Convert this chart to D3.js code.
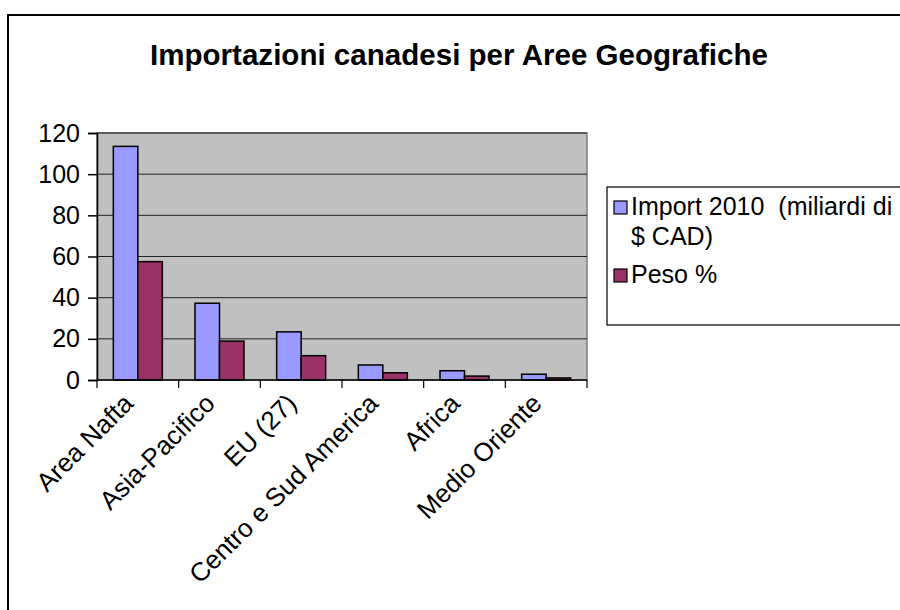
<!DOCTYPE html>
<html lang="it">
<head>
<meta charset="utf-8">
<title>Importazioni canadesi per Aree Geografiche</title>
<script src="https://cdn.jsdelivr.net/npm/d3@7"></script>
<style>
body { margin: 0; background: #fff; }
text { font-family: "Liberation Sans", Arial, sans-serif; fill: #000; }
</style>
</head>
<body>
<script>
// chart values
var categories = ["Area Nafta", "Asia-Pacifico", "EU (27)", "Centro e Sud America", "Africa", "Medio Oriente"];
var seriesNames = ["Import 2010  (miliardi di $ CAD)", "Peso %"];
var importVals = [113.5, 37.3, 23.4, 7.3, 4.5, 2.8];
var pesoVals = [57.5, 18.9, 11.8, 3.5, 1.9, 1.0];
var yTicks = [0, 20, 40, 60, 80, 100, 120];

var w = 900, h = 610;
var pLeft = 97, pRight = 587, pTop = 133, pBottom = 380;
var colors = ["#9999ff", "#993366"];
var fs = 25;

var svg = d3.select("body").append("svg")
  .attr("width", w).attr("height", h);

// outer chart border (runs off the page right and bottom)
svg.append("rect")
  .attr("x", 8).attr("y", 15)
  .attr("width", 920).attr("height", 620)
  .attr("fill", "none").attr("stroke", "#000").attr("stroke-width", 2);

svg.append("text")
  .attr("x", 459).attr("y", 65)
  .attr("text-anchor", "middle")
  .attr("font-size", 29).attr("font-weight", "bold")
  .attr("textLength", 618).attr("lengthAdjust", "spacingAndGlyphs")
  .text("Importazioni canadesi per Aree Geografiche");

var x0 = d3.scaleBand().domain(categories).range([pLeft, pRight]);
var x1 = d3.scaleBand().domain([0, 1]).range([0, x0.bandwidth()]).paddingOuter(0.667);
var y = d3.scaleLinear().domain([0, 120]).range([pBottom, pTop]);

// plot area
svg.append("rect")
  .attr("x", pLeft).attr("y", pTop)
  .attr("width", pRight - pLeft).attr("height", pBottom - pTop)
  .attr("fill", "#c0c0c0").attr("stroke", "#808080").attr("stroke-width", 1.5);

svg.selectAll(".grid")
  .data(yTicks.slice(1))
  .enter().append("line")
  .attr("x1", pLeft).attr("x2", pRight)
  .attr("y1", function(d) { return y(d); })
  .attr("y2", function(d) { return y(d); })
  .attr("stroke", "#222").attr("stroke-width", 1);

// bars
var rows = categories.map(function(c, i) { return { cat: c, vals: [importVals[i], pesoVals[i]] }; });
var groups = svg.selectAll(".grp").data(rows).enter().append("g")
  .attr("transform", function(d) { return "translate(" + x0(d.cat) + ",0)"; });

groups.selectAll("rect")
  .data(function(d) { return d.vals.map(function(v, k) { return { k: k, v: v }; }); })
  .enter().append("rect")
  .attr("x", function(d) { return x1(d.k); })
  .attr("width", x1.bandwidth())
  .attr("y", function(d) { return y(d.v); })
  .attr("height", function(d) { return y(0) - y(d.v); })
  .attr("fill", function(d) { return colors[d.k]; })
  .attr("stroke", "#000").attr("stroke-width", 1.5);

// y axis
var yAxis = svg.append("g")
  .attr("transform", "translate(" + pLeft + ",0)")
  .call(d3.axisLeft(y).tickValues(yTicks).tickSize(9).tickPadding(8));
yAxis.selectAll("text").attr("font-size", fs).style("font-family", "Liberation Sans, Arial, sans-serif");
yAxis.selectAll("line, path").attr("stroke", "#000").attr("stroke-width", 1.5);

// x axis with ticks between categories
var xAxis = svg.append("g").attr("transform", "translate(0," + pBottom + ")");
xAxis.append("line").attr("x1", pLeft).attr("x2", pRight)
  .attr("stroke", "#000").attr("stroke-width", 1.5);
xAxis.selectAll(".tk")
  .data(categories.concat([null]))
  .enter().append("line")
  .attr("x1", function(d, i) { return pLeft + i * x0.step(); })
  .attr("x2", function(d, i) { return pLeft + i * x0.step(); })
  .attr("y1", 0).attr("y2", 8)
  .attr("stroke", "#000").attr("stroke-width", 1.2);

xAxis.selectAll(".lbl")
  .data(categories)
  .enter().append("text")
  .attr("text-anchor", "end")
  .attr("font-size", 26)
  .attr("transform", function(d) {
    return "translate(" + (x0(d) + x0.bandwidth() / 2 - 3) + ",25) rotate(-45)";
  })
  .text(function(d) { return d; });

// legend
var lg = svg.append("g");
lg.append("rect")
  .attr("x", 607).attr("y", 187)
  .attr("width", 320).attr("height", 138)
  .attr("fill", "#fff").attr("stroke", "#000").attr("stroke-width", 1.2);

var legendItems = [
  { lines: ["Import 2010  (miliardi di", "$ CAD)"], y: 215 },
  { lines: ["Peso %"], y: 283 }
];
legendItems.forEach(function(it, i) {
  lg.append("rect")
    .attr("x", 614).attr("y", it.y - 14)
    .attr("width", 13).attr("height", 13)
    .attr("fill", colors[i]).attr("stroke", "#000").attr("stroke-width", 1.2);
  var t = lg.append("text").attr("x", 631).attr("y", it.y).attr("font-size", fs)
    .style("white-space", "pre");
  it.lines.forEach(function(l, j) {
    t.append("tspan").attr("x", 631).attr("dy", j === 0 ? 0 : 30).text(l);
  });
});
</script>
</body>
</html>
